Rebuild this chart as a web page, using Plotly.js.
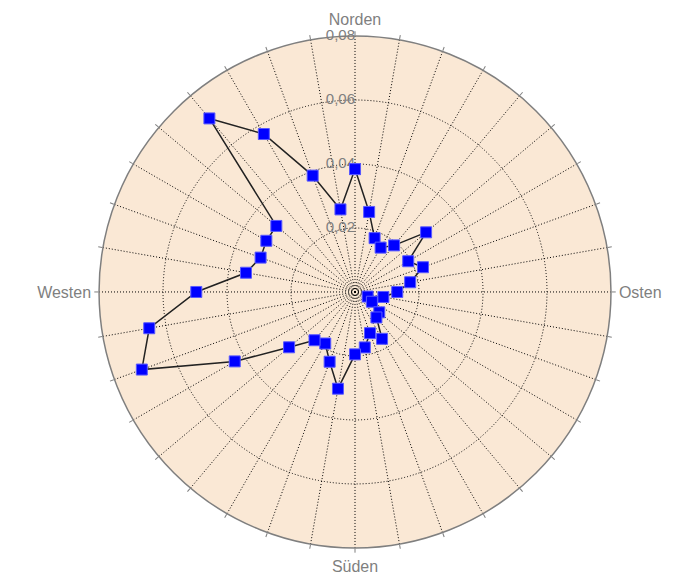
<!DOCTYPE html>
<html>
<head>
<meta charset="utf-8">
<script src="https://cdn.plot.ly/plotly-3.0.1.min.js"></script>
<style>html,body{margin:0;padding:0;background:#fff;}#chart{width:682px;height:574px;}</style>
</head>
<body>
<div id="chart"></div>
<script>
// Directions in degrees (clockwise from north)
const directions = [0,10,20,30,40,50,60,70,80,90,100,110,120,130,140,150,160,170,
                    180,190,200,210,220,230,240,250,260,270,280,290,300,310,320,330,340,350];
// Values per direction
const values = [0.0384,0.0254,0.0179,0.0160,0.0190,0.0290,0.0192,0.0226,0.0175,0.0132,
                0.0090,0.0042,0.0061,0.0099,0.0104,0.0169,0.0137,0.0176,0.0195,0.0307,
                0.0232,0.0186,0.0197,0.0269,0.0434,0.0709,0.0653,0.0496,0.0346,0.0314,
                0.0320,0.0321,0.0708,0.0570,0.0387,0.0262];
// Compass labels
const compassVals = [0,90,180,270];
const compassText = ['Norden','Osten','Süden','Westen'];
// Radial tick labels
const radialVals = [0.02,0.04,0.06,0.08];
const radialText = ['0,02','0,04','0,06','0,08'];

const tickvals = directions.slice();
const ticktext = tickvals.map(v => {
  const i = compassVals.indexOf(v);
  return i >= 0 ? compassText[i] : '';
});

const closedTheta = directions.concat([directions[0]]);
const closedR = values.concat([values[0]]);

const gray = '#7f7f7f';
const font = 'Liberation Sans, Arial, sans-serif';

const traces = [
  {
    type: 'scatterpolar',
    mode: 'text',
    r: radialVals,
    theta: radialVals.map(() => 0),
    text: radialText,
    textposition: 'middle left',
    textfont: {family: font, size: 15, color: gray},
    hoverinfo: 'skip',
    showlegend: false
  },
  {
    type: 'scatterpolar',
    mode: 'lines+markers',
    r: closedR,
    theta: closedTheta,
    line: {color: '#222222', width: 1.5},
    marker: {symbol: 'square', size: 11, color: '#0000ff', line: {color: '#5a5aff', width: 1}},
    showlegend: false
  }
];

const layout = {
  width: 682,
  height: 574,
  margin: {l: 0, r: 0, t: 0, b: 0},
  paper_bgcolor: '#ffffff',
  showlegend: false,
  polar: {
    domain: {x: [0.1452, 0.8959], y: [0.0454, 0.9373]},
    bgcolor: '#fae8d5',
    radialaxis: {
      range: [0, 0.08],
      tickvals: radialVals,
      showticklabels: false,
      ticks: '',
      showline: false,
      showgrid: true,
      gridcolor: '#000000',
      griddash: '1px,2px',
      gridwidth: 1
    },
    angularaxis: {
      rotation: 90,
      direction: 'clockwise',
      tickmode: 'array',
      tickvals: tickvals,
      ticktext: ticktext,
      ticks: 'outside',
      ticklen: 4,
      tickcolor: gray,
      tickfont: {family: font, size: 16, color: gray},
      showline: true,
      linecolor: gray,
      linewidth: 1.5,
      showgrid: true,
      gridcolor: '#000000',
      griddash: '1px,2px',
      gridwidth: 1
    }
  }
};

Plotly.newPlot('chart', traces, layout, {displayModeBar: false, staticPlot: true});
</script>
</body>
</html>
